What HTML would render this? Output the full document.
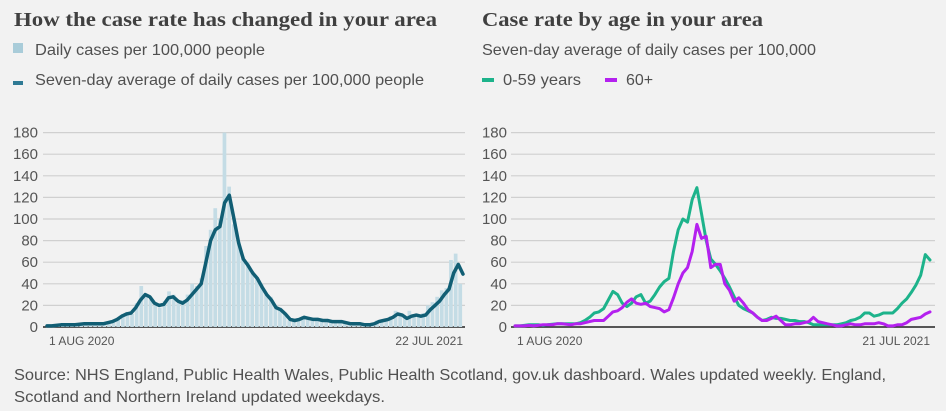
<!DOCTYPE html>
<html><head><meta charset="utf-8">
<style>
body{margin:0;background:#f2f2f2;width:946px;height:411px;overflow:hidden;font-family:"Liberation Sans",sans-serif}
svg{display:block}
</style></head>
<body>
<svg id="c" width="946" height="411">
<text x="14" y="26" font-family="Liberation Serif, serif" font-weight="bold" font-size="20" fill="#404040" textLength="423" lengthAdjust="spacingAndGlyphs">How the case rate has changed in your area</text>
<rect x="13" y="43" width="10" height="10" fill="#a9ccd9"/>
<text x="35" y="55" font-size="16" fill="#505050" textLength="230" lengthAdjust="spacingAndGlyphs">Daily cases per 100,000 people</text>
<rect x="13" y="81" width="10" height="4" fill="#2f7a94"/>
<text x="35" y="85" font-size="16" fill="#505050" textLength="389" lengthAdjust="spacingAndGlyphs">Seven-day average of daily cases per 100,000 people</text>

<text x="482" y="26" font-family="Liberation Serif, serif" font-weight="bold" font-size="20" fill="#404040" textLength="281" lengthAdjust="spacingAndGlyphs">Case rate by age in your area</text>
<text x="482" y="55" font-size="16" fill="#505050" textLength="334" lengthAdjust="spacingAndGlyphs">Seven-day average of daily cases per 100,000</text>
<rect x="482" y="78" width="12" height="4" fill="#1db38b"/>
<text x="503" y="85" font-size="16" fill="#505050" textLength="78" lengthAdjust="spacingAndGlyphs">0-59 years</text>
<rect x="605" y="78" width="12" height="4" fill="#b421ef"/>
<text x="626" y="85" font-size="16" fill="#505050">60+</text>

<g id="left"></g>
<g id="right"></g>

<text x="14" y="380" font-size="16" fill="#505050" textLength="872" lengthAdjust="spacingAndGlyphs">Source: NHS England, Public Health Wales, Public Health Scotland, gov.uk dashboard. Wales updated weekly. England,</text>
<text x="14" y="402" font-size="16" fill="#505050" textLength="371" lengthAdjust="spacingAndGlyphs">Scotland and Northern Ireland updated weekdays.</text>
</svg>
<script>
const yTicks=[0,20,40,60,80,100,120,140,160,180];
const dailyCases=[1,1,2,2,2,2,2,3,3,3,3,3,3,4,6,8,12,14,12,22,38,30,25,20,18,24,33,30,22,25,30,40,38,45,75,90,110,100,180,130,95,80,65,60,52,45,40,30,28,20,18,12,6,6,8,10,8,7,8,6,6,5,6,5,4,3,3,3,2,2,3,6,7,8,10,15,12,9,15,12,10,13,20,23,28,34,36,62,68,40];
const sevenDayAvg=[1,1,1.5,2,2,2,2,2.5,3,3,3,3,3,4,5,7,10,12,13,18,25,30,28,22,20,21,27,28,24,22,25,30,35,40,60,80,90,93,115,122,100,78,63,57,50,45,37,30,25,18,16,12,7,6,7,9,8,7,7,6,6,5,5,5,4,3,3,3,2,2,3,5,6,7,9,12,11,8,10,11,10,11,16,20,24,30,35,50,58,49];
const age0to59=[1,1,1.5,2,2,2,1.5,2,2.5,3,3,3,3,3,4,6,9,13,14,17,25,33,30,22,19,22,28,30,22,24,30,37,42,45,70,90,100,97,118,129,105,80,63,58,52,45,37,28,20,17,15,13,9,6,7,9,8,8,7,6,6,5,5,4,2,2,2,2,2,2,3,4,6,7,9,13,13,10,11,13,13,13,17,22,26,32,39,48,67,62];
const age60plus=[1,1,1,1.5,1,1.5,2,2,2,3,3,2.5,2,3,3,4,5,6,6,6,10,14,15,18,23,26,22,21,22,19,18,17,14,16,27,40,50,55,70,95,82,84,55,58,58,40,34,24,27,22,16,13,9,6,6,8,10,6,2,2,3,3,4,5,9,5,4,3,2,1,1,2,3,2,2,3,3,3,4,3,1,1,2,2,4,7,8,9,12,14];
const NS='http://www.w3.org/2000/svg';
function mk(tag,attrs,parent){const e=document.createElementNS(NS,tag);for(const k in attrs)e.setAttribute(k,attrs[k]);parent.appendChild(e);return e;}
const y=v=>327-v*(194.4/180);
function axes(g,gx0,gx1,labelX,startLabel,endLabel,startX,endX){
  yTicks.forEach(t=>{
    const l=mk('line',{x1:gx0,x2:gx1,y1:y(t),y2:y(t),stroke:t===0?'#222':'#d0d0d0','stroke-width':t===0?1.5:1.2},g);
    
    
    const tx=mk('text',{x:labelX,y:y(t)+5,'text-anchor':'end','font-size':15,fill:'#555'},g);
    tx.textContent=t;
    
    
  });
  const a=mk('text',{x:startX,y:345,'font-size':12,fill:'#555'},g);a.textContent=startLabel;
  
  
  const b=mk('text',{x:endX,y:345,'font-size':12,fill:'#555','text-anchor':'end'},g);b.textContent=endLabel;
  
  
}
function line(g,vals,x0,x1,color,name,w){
  const n=vals.length;const x=i=>x0+(x1-x0)*i/(n-1);
  const p=mk('path',{d:vals.map((v,i)=>(i?'L':'M')+x(i).toFixed(1)+','+y(v).toFixed(1)).join(''),fill:'none',stroke:color,'stroke-width':w,'stroke-linejoin':'round','stroke-linecap':'round'},g);
  
  
}
const L=document.getElementById('left');
axes(L,43,465,38,'1 AUG 2020','22 JUL 2021',49,463);
{const x0=47,x1=463,n=dailyCases.length,w=(x1-x0)/n;
dailyCases.forEach((v,i)=>{const r=mk('rect',{x:(x0+i*w).toFixed(1),y:y(v).toFixed(1),width:(w*0.8).toFixed(1),height:(327-y(v)).toFixed(1),fill:'#c4dce5'},L);

});}
line(L,sevenDayAvg,47,463,'#115e74','seven-day-average-line',3.5);
const R=document.getElementById('right');
axes(R,511,935,507,'1 AUG 2020','21 JUL 2021',517,930);
line(R,age0to59,515,930,'#1db38b','age-0-59-line',3);
line(R,age60plus,515,930,'#b421ef','age-60-plus-line',3);
</script>
</body></html>
